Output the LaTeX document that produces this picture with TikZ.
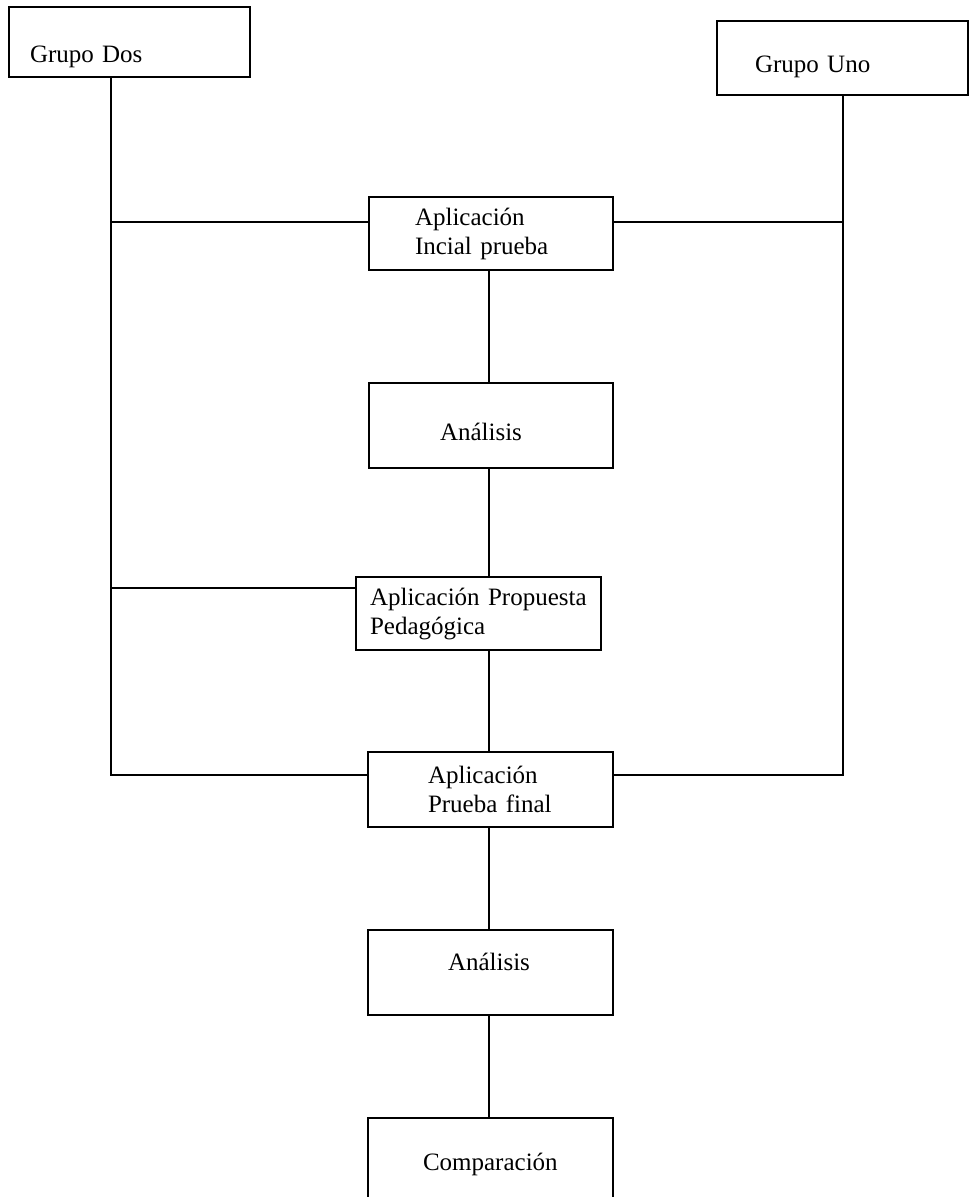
\documentclass[tikz,border=0pt]{standalone}
\usepackage{fontspec}
\setmainfont{Liberation Serif}

\begin{document}
\begin{tikzpicture}[x=1pt,y=-1pt,
  caja/.style={draw, line width=2pt, inner ysep=0pt, align=left,
    font=\fontsize{25}{29}\selectfont},
  linea/.style={line width=2pt}]
\useasboundingbox (0,0) rectangle (969,1197);
% grupos
\node[caja, minimum width=241, minimum height=70, inner xsep=21pt, text width=199pt] (dos) at (129.5,42)
  {\raisebox{-20pt}[0pt][0pt]{Grupo Dos}};
\node[caja, minimum width=251, minimum height=74, inner xsep=38pt, text width=175pt] (uno) at (842.5,58)
  {\raisebox{-14pt}[0pt][0pt]{Grupo Uno}};
% pasos
\node[caja, minimum width=244, minimum height=73, inner xsep=46pt, text width=152pt] (app1) at (491,233.5)
  {Aplicación\\Incial prueba};
\node[caja, minimum width=244, minimum height=85, inner xsep=71pt, text width=102pt] (ana1) at (491,425.5)
  {\raisebox{-14.5pt}[0pt][0pt]{Análisis}};
\node[caja, minimum width=245, minimum height=73, inner xsep=14pt, text width=217pt] (prop) at (478.5,613.5)
  {Aplicación Propuesta\\Pedagógica};
\node[caja, minimum width=245, minimum height=75, inner xsep=60pt, text width=125pt] (fin) at (490.5,789.5)
  {Aplicación\\Prueba final};
\node[caja, minimum width=245, minimum height=85, inner xsep=80pt, text width=85pt] (ana2) at (490.5,972.5)
  {\raisebox{2.5pt}[0pt][0pt]{Análisis}};
\node[caja, minimum width=245, minimum height=92, inner xsep=55pt, text width=135pt] (comp) at (490.5,1164)
  {\raisebox{-6pt}[0pt][0pt]{Comparación}};
% lineas
\coordinate (lsup) at (111,222);
\coordinate (lmed) at (111,588);
\coordinate (linf) at (111,775);
\coordinate (rsup) at (843,222);
\coordinate (rinf) at (843,775);
\coordinate (eje) at (489,0);
\draw[linea] (dos.south -| linf) -- (linf) -- (linf -| fin.west);
\draw[linea] (lsup) -- (lsup -| app1.west);
\draw[linea] (lmed) -- (lmed -| prop.west);
\draw[linea] (uno.south -| rinf) -- (rinf) -- (rinf -| fin.east);
\draw[linea] (app1.east |- rsup) -- (rsup);
\foreach \a/\b in {app1/ana1, ana1/prop, prop/fin, fin/ana2, ana2/comp}
  \draw[linea] (\a.south -| eje) -- (\b.north -| eje);
\end{tikzpicture}
\end{document}
